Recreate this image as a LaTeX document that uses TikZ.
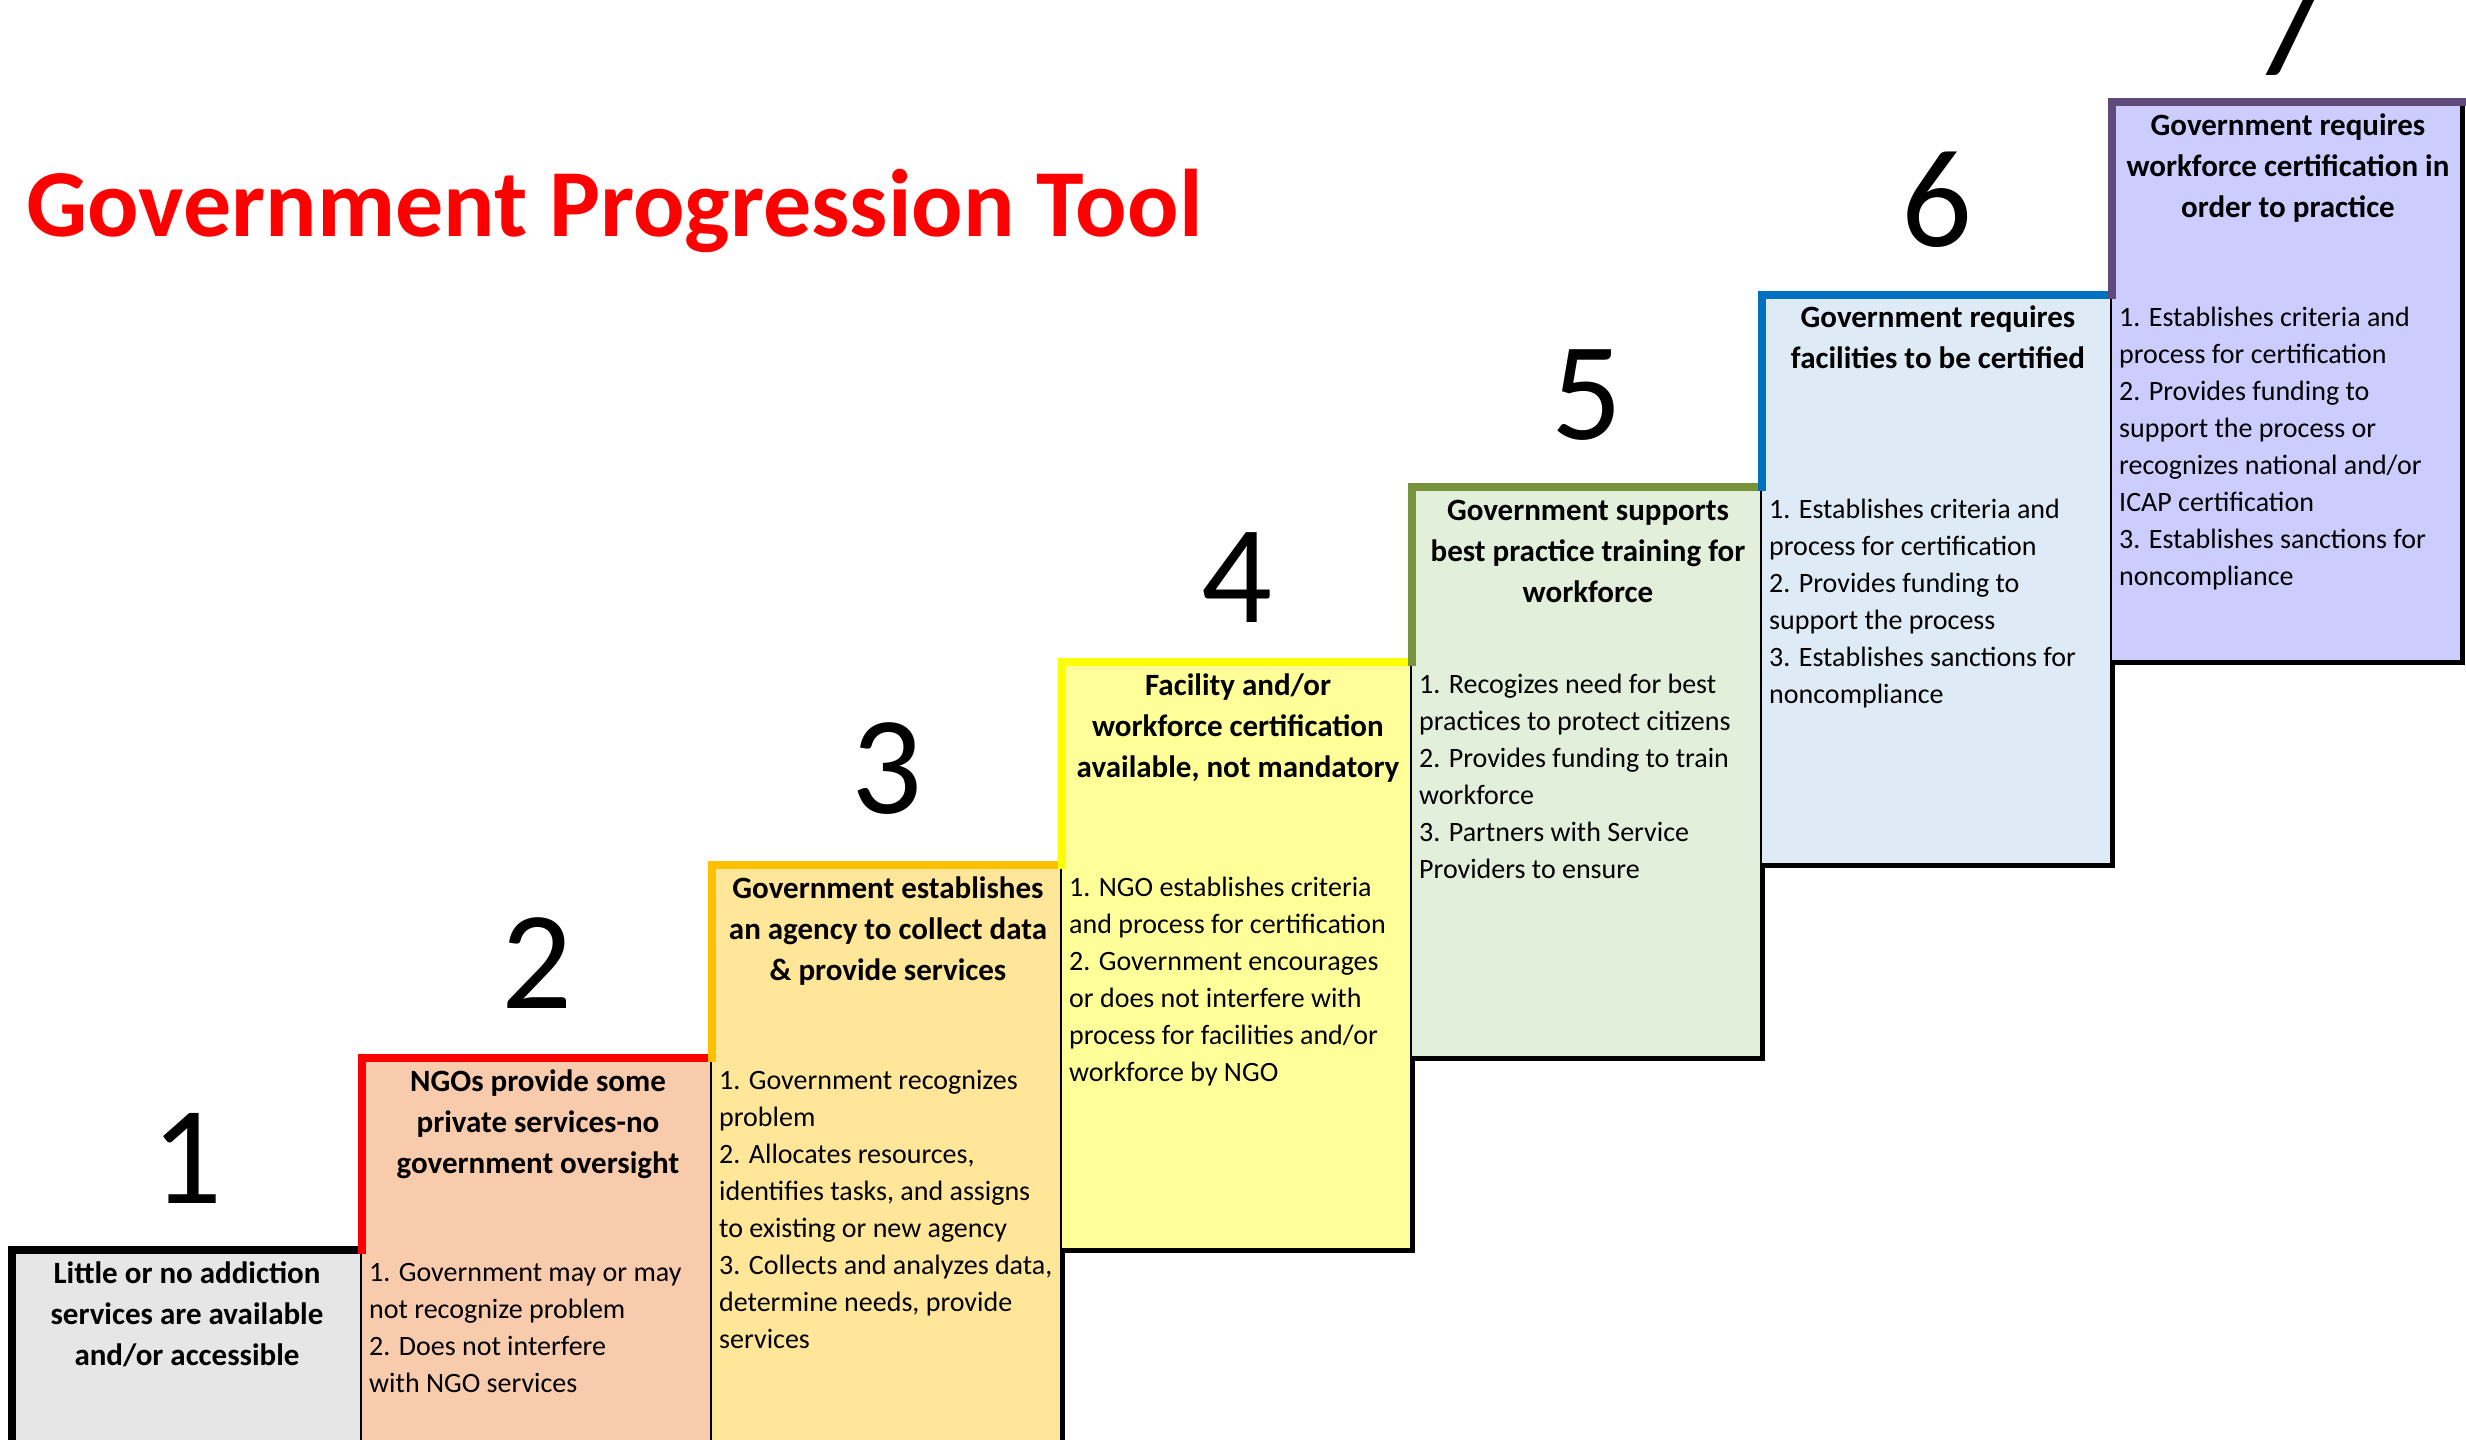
\documentclass[tikz,border=0pt]{standalone}
\usepackage{fontspec}
\setmainfont{Carlito}
\definecolor{fillA}{HTML}{E6E6E6}
\definecolor{fillB}{HTML}{F8CBAD}
\definecolor{fillC}{HTML}{FFE699}
\definecolor{fillD}{HTML}{FFFF99}
\definecolor{fillE}{HTML}{E2EFDA}
\definecolor{fillF}{HTML}{DEEBF7}
\definecolor{fillG}{HTML}{CCCCFF}
\definecolor{edgeA}{HTML}{000000}
\definecolor{edgeB}{HTML}{FF0000}
\definecolor{edgeC}{HTML}{FFC000}
\definecolor{edgeD}{HTML}{FFFF00}
\definecolor{edgeE}{HTML}{77933C}
\definecolor{edgeF}{HTML}{0070C0}
\definecolor{edgeG}{HTML}{604A7B}
\definecolor{titlered}{HTML}{FF0000}
\newcommand{\stepfill}[5]{% L T R B fill
  \fill[#5] (#1,#2) rectangle (#3,#4);
  \draw[blackedge] (#3,#2) -- (#3,#4) -- (#1,#4);
}
\newcommand{\stepedge}[5]{% L Tprev T R colour
  \draw[coloredge, draw=#5] (#1,#2) -- (#1,#3) -- (#4,#3);
}
\begin{document}
\begin{tikzpicture}[x=1pt,y=-1pt,
  blackedge/.style={draw=black, line width=5pt, line cap=rect},
  coloredge/.style={line width=8.5pt, line cap=rect, line join=miter},
  steptitle/.style={anchor=north, align=center, inner sep=0pt, font=\fontsize{31}{41}\selectfont\bfseries},
  stepbody/.style={anchor=north west, align=left, inner sep=0pt, font=\fontsize{28}{37}\selectfont},
  stepnum/.style={anchor=base, inner sep=0pt, font=\fontsize{140}{140}\selectfont},
]
\useasboundingbox (0,0) rectangle (2466,1440);
\clip (0,0) rectangle (2466,1440);
\fill[white] (0,0) rectangle (2466,1440);

% fills and black edges
\stepfill{12}{1250}{362}{1470}{fillA}
\stepfill{362}{1058}{712}{1470}{fillB}
\stepfill{712}{865}{1062}{1470}{fillC}
\stepfill{1062}{662}{1412}{1250}{fillD}
\stepfill{1412}{487}{1762}{1058}{fillE}
\stepfill{1762}{295}{2112}{865}{fillF}
\stepfill{2112}{102}{2462}{662}{fillG}

% coloured top/left edges
\stepedge{12}{1470}{1250}{362}{edgeA}
\stepedge{362}{1250}{1058}{712}{edgeB}
\stepedge{712}{1058}{865}{1062}{edgeC}
\stepedge{1062}{865}{662}{1412}{edgeD}
\stepedge{1412}{662}{487}{1762}{edgeE}
\stepedge{1762}{487}{295}{2112}{edgeF}
\stepedge{2112}{295}{102}{2462}{edgeG}

% main title
\node[anchor=base west, inner sep=0pt, text=titlered, font=\fontsize{96}{100}\selectfont\bfseries] (title) at (26,236) {Government Progression Tool};

% step numbers
\node[stepnum] (n1) at (187,1203) {1};
\node[stepnum] (n2) at (537,1008) {2};
\node[stepnum] (n3) at (887,813) {3};
\node[stepnum] (n4) at (1237,622) {4};
\node[stepnum] (n5) at (1587,439) {5};
\node[stepnum] (n6) at (1937,246) {6};
\node[stepnum] (n7) at (2287,75) {7};

% step titles
\node[steptitle] (t1) at (187,1254.5) {\strut Little or no addiction\\services are available\\and/or accessible};
\node[steptitle] (t2) at (538,1062.5) {\strut NGOs provide some\\private services-no\\government oversight};
\node[steptitle] (t3) at (888,869.5) {\strut Government establishes\\an agency to collect data\\\& provide services};
\node[steptitle] (t4) at (1238,666.5) {\strut Facility and/or\\workforce certification\\available, not mandatory};
\node[steptitle] (t5) at (1588,491.5) {\strut Government supports\\best practice training for\\workforce};
\node[steptitle] (t6) at (1938,298.5) {\strut Government requires\\facilities to be certified};
\node[steptitle] (t7) at (2288,106.5) {\strut Government requires\\workforce certification in\\order to practice};

% step bodies
\node[stepbody] (b2) at (369,1255.1) {\strut 1. Government may or may\\not recognize problem\\2. Does not interfere\\with NGO services};
\node[stepbody] (b3) at (719,1063.1) {\strut 1. Government recognizes\\problem\\2. Allocates resources,\\identifies tasks, and assigns\\to existing or new agency\\3. Collects and analyzes data,\\determine needs, provide\\services};
\node[stepbody] (b4) at (1069,870.1) {\strut 1. NGO establishes criteria\\and process for certification\\2. Government encourages\\or does not interfere with\\process for facilities and/or\\workforce by NGO};
\node[stepbody] (b5) at (1419,667.1) {\strut 1. Recogizes need for best\\practices to protect citizens\\2. Provides funding to train\\workforce\\3. Partners with Service\\Providers to ensure};
\node[stepbody] (b6) at (1769,492.1) {\strut 1. Establishes criteria and\\process for certification\\2. Provides funding to\\support the process\\3. Establishes sanctions for\\noncompliance};
\node[stepbody] (b7) at (2119,300.1) {\strut 1. Establishes criteria and\\process for certification\\2. Provides funding to\\support the process or\\recognizes national and/or\\ICAP certification\\3. Establishes sanctions for\\noncompliance};
\end{tikzpicture}
\end{document}
